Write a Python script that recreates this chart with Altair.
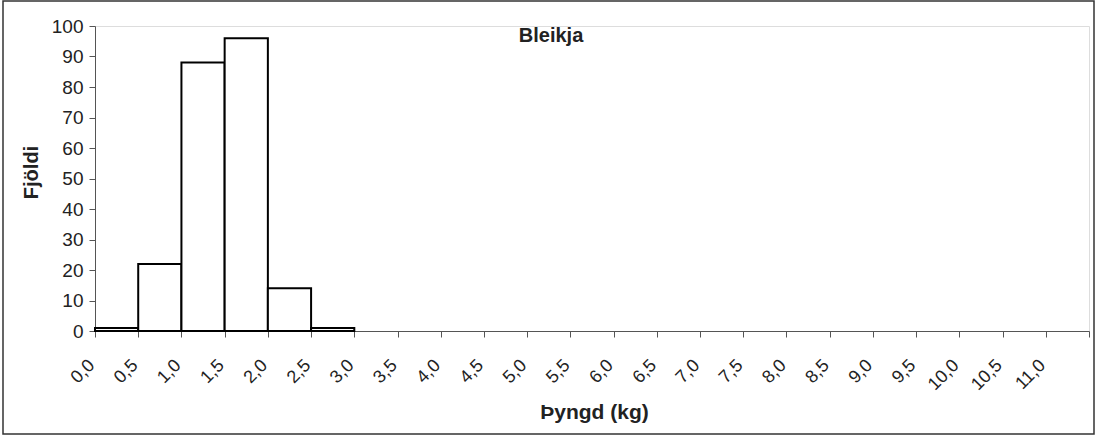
import altair as alt
import pandas as pd

# Bin starts (kg) and counts
bin_start = [0.0, 0.5, 1.0, 1.5, 2.0, 2.5, 3.0, 3.5, 4.0, 4.5, 5.0, 5.5,
             6.0, 6.5, 7.0, 7.5, 8.0, 8.5, 9.0, 9.5, 10.0, 10.5, 11.0]
counts = [1, 22, 88, 96, 14, 1, 0, 0, 0, 0, 0, 0,
          0, 0, 0, 0, 0, 0, 0, 0, 0, 0, 0]
bin_width = 0.5
y_ticks = [0, 10, 20, 30, 40, 50, 60, 70, 80, 90, 100]
chart_title = "Bleikja"

df = pd.DataFrame({
    "start": bin_start,
    "end": [b + bin_width for b in bin_start],
    "count": counts,
})
x_ticks = bin_start + [bin_start[-1] + bin_width]
x_max = x_ticks[-1]

FONT = "Liberation Sans"
AX = "#555555"

x_scale = alt.Scale(domain=[0, x_max], nice=False, zero=True)
y_scale = alt.Scale(domain=[0, 100], nice=False)

bars = alt.Chart(df).transform_filter("datum.count > 0").mark_bar(
    fill="white", stroke="black", strokeWidth=2
).encode(
    x=alt.X("start:Q", scale=x_scale, axis=alt.Axis(
        values=x_ticks,
        labelExpr=f"datum.value > {x_max - 0.25} ? '' : replace(format(datum.value, '.1f'), '.', ',')",
        labelAngle=-45, labelAlign="right", labelBaseline="alphabetic",
        labelPadding=29, tickSize=6, labelFontSize=18, labelFont=FONT,
        labelColor="#222", domainColor=AX, tickColor=AX, grid=False,
        labelOverlap=False, labelBound=False, labelFlush=False,
        title="Þyngd (kg)", titleFont=FONT, titleFontSize=21, titleFontWeight="bold",
        titleColor="#222", titleX=499, titleY=87, titleAlign="center",
        titleBaseline="alphabetic",
    )),
    x2="end:Q",
    y=alt.Y("count:Q", scale=y_scale, axis=alt.Axis(
        values=y_ticks, tickSize=6, labelPadding=6, labelFontSize=19,
        labelFont=FONT, labelColor="#222", domainColor=AX, tickColor=AX,
        grid=False, labelOverlap=False,
        title="Fjöldi", titleFont=FONT, titleFontSize=20, titleFontWeight="bold",
        titleColor="#222", titleX=-64, titleY=146, titleAngle=-90,
        titleAlign="center", titleBaseline="middle",
    )),
    y2=alt.datum(0),
)

frame = alt.Chart(pd.DataFrame({"k": [0]})).mark_rect(
    fill=None, stroke="#333333", strokeWidth=1.5
).encode(
    x=alt.value(-92), x2=alt.value(999), y=alt.value(-25), y2=alt.value(408)
)

title_txt = alt.Chart(pd.DataFrame({"t": [chart_title]})).mark_text(
    font=FONT, fontSize=20, fontWeight="bold", color="#222",
    align="center", baseline="alphabetic"
).encode(text="t:N", x=alt.value(456), y=alt.value(16))

chart = alt.layer(frame, bars, title_txt).properties(
    width=994, height=305,
    padding={"left": 95, "top": 26, "right": 7, "bottom": 107},
    autosize=alt.AutoSizeParams(type="none"),
).configure_view(stroke=None).configure(background="white")

chart.save("out.html", embed_options={"renderer": "svg", "actions": False})
